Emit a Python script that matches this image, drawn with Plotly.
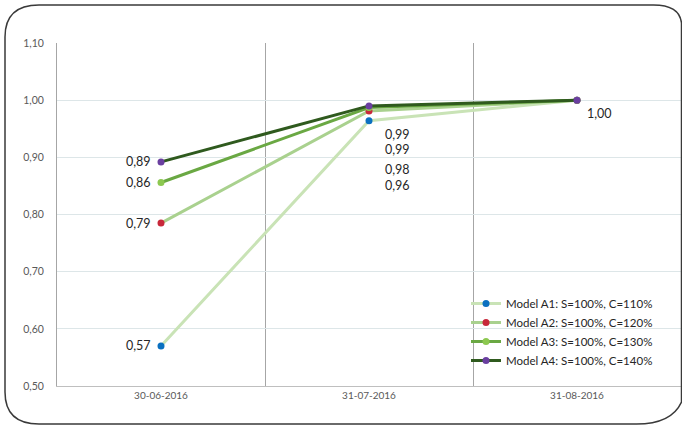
import plotly.graph_objects as go

categories = ["30-06-2016", "31-07-2016", "31-08-2016"]
series_names = [
    "Model A1: S=100%, C=110%",
    "Model A2: S=100%, C=120%",
    "Model A3: S=100%, C=130%",
    "Model A4: S=100%, C=140%",
]
a1 = [0.57, 0.964, 1.00]
a2 = [0.785, 0.981, 1.00]
a3 = [0.856, 0.987, 1.00]
a4 = [0.892, 0.990, 1.00]
series_values = [a1, a2, a3, a4]
y_ticks = [0.5, 0.6, 0.7, 0.8, 0.9, 1.0, 1.1]

line_colors = ["#c9e3b6", "#a9d18e", "#6aa843", "#2f5a1e"]
marker_colors = ["#0a70c0", "#c8283a", "#8cc850", "#6a3fa0"]
# label offsets (px) per series for the middle category
mid_label_shift = [-65, -58, -42, -29]

W, H = 682, 427
L, R, T, B = 57, 1, 43, 41
PW, PH = W - L - R, H - T - B


def px(x):
    return (x - L) / PW


def py(y):
    return (H - B - y) / PH


fig = go.Figure()
for name, vals, lc, mc in zip(series_names, series_values, line_colors, marker_colors):
    fig.add_trace(go.Scatter(
        x=categories, y=vals, name=name, mode="lines+markers",
        line=dict(color=lc, width=3),
        marker=dict(color=mc, size=7),
    ))

annotations = []
font_lbl = dict(family="Lato, Open Sans, sans-serif", size=12.5, color="#262626")
for i, vals in enumerate(series_values):
    annotations.append(dict(x=categories[0], y=vals[0], text=f"{vals[0]:.2f}".replace(".", ","),
                            showarrow=False, xanchor="right", xshift=-8, font=font_lbl))
    annotations.append(dict(x=categories[1], y=vals[1], text=f"{vals[1]:.2f}".replace(".", ","),
                            showarrow=False, xanchor="left", xshift=14, yshift=mid_label_shift[i],
                            font=font_lbl))
annotations.append(dict(x=categories[2], y=a4[2], text=f"{a4[2]:.2f}".replace(".", ","),
                        showarrow=False, xanchor="left", xshift=8, yshift=-13, font=font_lbl))

# rounded frame
x0, x1, y0, y1 = 5, 681.5, 5, 424
frame = (
    f"M {px(x0)},{py(y0+32)} Q {px(x0)},{py(y0)} {px(x0+34)},{py(y0)} "
    f"L {px(x1-28)},{py(y0)} Q {px(x1-2)},{py(y0)} {px(x1)},{py(y0+18)} "
    f"L {px(x1)},{py(y1-22)} Q {px(x1-10)},{py(y1)} {px(x1-45)},{py(y1)} "
    f"L {px(x0+34)},{py(y1)} Q {px(x0)},{py(y1)} {px(x0)},{py(y1-32)} Z"
)

fig.update_layout(
    width=W, height=H,
    margin=dict(l=L, r=R, t=T, b=B),
    paper_bgcolor="white", plot_bgcolor="white",
    separators=",.",
    font=dict(family="Lato, Open Sans, sans-serif", color="#595959"),
    showlegend=True,
    legend=dict(x=px(466), y=py(289), xanchor="left", yanchor="top",
                bgcolor="rgba(0,0,0,0)", font=dict(size=11.5, color="#262626"),
                itemwidth=30, tracegroupgap=0),
    annotations=annotations,
    shapes=[dict(type="path", xref="paper", yref="paper", path=frame,
                 line=dict(color="#3a3a3a", width=1.5), layer="above")],
)
fig.update_xaxes(
    type="category", tickson="boundaries", showgrid=True, gridcolor="#a6a6a6", gridwidth=1,
    ticks="", showline=True, linecolor="#bfbfbf", linewidth=1,
    tickfont=dict(size=10, color="#595959"), range=[-0.5, 2.5],
)
fig.update_yaxes(
    range=[0.5, 1.1], tickvals=y_ticks, tickformat=".2f",
    showgrid=True, gridcolor="#dde6e8", gridwidth=1, zeroline=False,
    showline=True, mirror=True, linecolor="#a6a6a6", linewidth=1,
    ticks="", ticklabelstandoff=10,
    tickfont=dict(size=10.5, color="#595959"),
)

fig.write_html("out.html", config={"displayModeBar": False},
               post_script="document.body.style.margin='0';")
